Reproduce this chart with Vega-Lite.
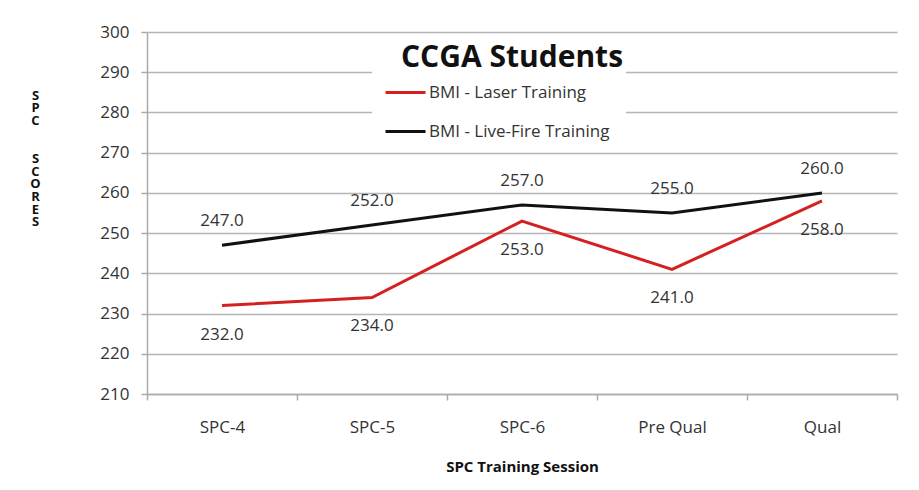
{
  "$schema": "https://vega.github.io/schema/vega-lite/v6.json",
  "width": 750,
  "height": 362,
  "autosize": {"type": "none"},
  "padding": {"left": 147, "top": 32, "right": 22, "bottom": 96},
  "background": "white",
  "config": {
    "font": "Open Sans",
    "view": {"stroke": null}
  },
  "title": {
    "text": "CCGA Students",
    "fontSize": 30,
    "fontWeight": "bold",
    "color": "#111111",
    "font": "Open Sans",
    "anchor": "middle",
    "dx": -10,
    "dy": 54
  },
  "data": {
    "values": [
      {"session": "SPC-4", "series": "BMI - Laser Training", "score": 232},
      {"session": "SPC-5", "series": "BMI - Laser Training", "score": 234},
      {"session": "SPC-6", "series": "BMI - Laser Training", "score": 253},
      {"session": "Pre Qual", "series": "BMI - Laser Training", "score": 241},
      {"session": "Qual", "series": "BMI - Laser Training", "score": 258},
      {"session": "SPC-4", "series": "BMI -  Live-Fire Training", "score": 247},
      {"session": "SPC-5", "series": "BMI -  Live-Fire Training", "score": 252},
      {"session": "SPC-6", "series": "BMI -  Live-Fire Training", "score": 257},
      {"session": "Pre Qual", "series": "BMI -  Live-Fire Training", "score": 255},
      {"session": "Qual", "series": "BMI -  Live-Fire Training", "score": 260}
    ]
  },
  "encoding": {
    "x": {
      "field": "session",
      "type": "nominal",
      "sort": ["SPC-4", "SPC-5", "SPC-6", "Pre Qual", "Qual"],
      "scale": {"paddingInner": 0, "paddingOuter": 0},
      "axis": {
        "title": "SPC Training Session",
        "titleFontSize": 15,
        "titleFontWeight": "bold",
        "titleColor": "#111111",
        "titlePadding": 24,
        "labelAngle": 0,
        "labelFontSize": 17,
        "labelColor": "#333333",
        "labelPadding": 19,
        "tickBand": "extent",
        "tickSize": 6,
        "tickColor": "#aaaaaa",
        "tickWidth": 1.5,
        "domainColor": "#aaaaaa",
        "domainWidth": 1.5,
        "grid": false
      }
    },
    "y": {
      "field": "score",
      "type": "quantitative",
      "scale": {"domain": [210, 300], "zero": false, "nice": false},
      "axis": {
        "values": [210, 220, 230, 240, 250, 260, 270, 280, 290, 300],
        "title": ["S", "P", "C", "\u200b", "\u200b", "S", "C", "O", "R", "E", "S"],
        "titleAngle": 0,
        "titleFontSize": 13,
        "titleFontWeight": "bold",
        "titleColor": "#111111",
        "titleLineHeight": 12.7,
        "titleAlign": "center",
        "titleBaseline": "middle",
        "titleX": -112,
        "titleY": 63,
        "labelFontSize": 17,
        "labelColor": "#333333",
        "labelPadding": 12,
        "tickSize": 6,
        "tickColor": "#aaaaaa",
        "tickWidth": 1.5,
        "domainColor": "#aaaaaa",
        "domainWidth": 1.5,
        "gridColor": "#b5b5b5",
        "gridWidth": 1.5
      }
    }
  },
  "layer": [
    {
      "mark": {"type": "line", "strokeWidth": 3},
      "encoding": {
        "color": {
          "field": "series",
          "type": "nominal",
          "sort": ["BMI - Laser Training", "BMI -  Live-Fire Training"],
          "scale": {
            "domain": ["BMI - Laser Training", "BMI -  Live-Fire Training"],
            "range": ["#d42020", "#111111"]
          },
          "legend": {
            "title": null,
            "orient": "none",
            "legendX": 225,
            "legendY": 27,
            "fillColor": "white",
            "padding": 12,
            "symbolType": "stroke",
            "symbolSize": 1600,
            "symbolStrokeWidth": 3,
            "labelFontSize": 17,
            "labelColor": "#333333",
            "labelOffset": 2,
            "rowPadding": 9,
            "labelLimit": 400
          }
        }
      }
    },
    {
      "transform": [{"filter": "datum.series == 'BMI - Laser Training'"}],
      "mark": {"type": "text", "fontSize": 17, "color": "#333333", "dy": 29, "baseline": "middle"},
      "encoding": {"text": {"field": "score", "type": "quantitative", "format": ".1f"}}
    },
    {
      "transform": [{"filter": "datum.series != 'BMI - Laser Training'"}],
      "mark": {"type": "text", "fontSize": 17, "color": "#333333", "dy": -24, "baseline": "middle"},
      "encoding": {"text": {"field": "score", "type": "quantitative", "format": ".1f"}}
    }
  ]
}
